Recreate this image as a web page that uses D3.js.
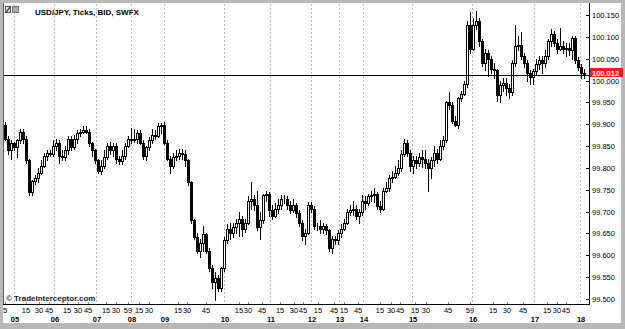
<!DOCTYPE html>
<html>
<head>
<meta charset="utf-8">
<script src="https://cdn.jsdelivr.net/npm/d3@7"></script>
<style>
  html, body { margin: 0; padding: 0; background: #b8b8b8; }
  svg { display: block; }
  text { font-family: "Liberation Sans", Arial, sans-serif; }
</style>
</head>
<body>
<div class="chart"></div>
<script>
const width = 625;
const height = 329;

// candle data (USD/JPY ticks, BID)
const open = [
  99.899, 99.867, 99.840, 99.856, 99.849, 99.863, 99.883, 99.867, 99.817, 99.744,
  99.771, 99.776, 99.789, 99.805, 99.828, 99.835, 99.833, 99.851, 99.858, 99.828,
  99.824, 99.840, 99.867, 99.849, 99.867, 99.879, 99.883, 99.886, 99.883, 99.856,
  99.840, 99.817, 99.794, 99.805, 99.824, 99.851, 99.840, 99.851, 99.821, 99.815,
  99.828, 99.851, 99.867, 99.863, 99.867, 99.879, 99.858, 99.828, 99.847, 99.863,
  99.876, 99.874, 99.897, 99.899, 99.858, 99.821, 99.805, 99.824, 99.828, 99.835,
  99.833, 99.817, 99.767, 99.680, 99.643, 99.611, 99.629, 99.648, 99.611, 99.570,
  99.538, 99.547, 99.526, 99.570, 99.634, 99.661, 99.652, 99.664, 99.675, 99.684,
  99.661, 99.675, 99.725, 99.730, 99.714, 99.664, 99.680, 99.737, 99.741, 99.703,
  99.691, 99.707, 99.714, 99.728, 99.730, 99.714, 99.703, 99.714, 99.696, 99.673,
  99.645, 99.652, 99.716, 99.707, 99.668, 99.666, 99.661, 99.666, 99.657, 99.616,
  99.638, 99.634, 99.650, 99.661, 99.675, 99.698, 99.703, 99.705, 99.691, 99.698,
  99.725, 99.719, 99.735, 99.737, 99.741, 99.712, 99.707, 99.748, 99.755, 99.778,
  99.780, 99.789, 99.799, 99.833, 99.856, 99.835, 99.805, 99.817, 99.812, 99.826,
  99.821, 99.812, 99.799, 99.817, 99.835, 99.821, 99.851, 99.865, 99.950, 99.945,
  99.908, 99.899, 99.959, 99.970, 99.991, 100.126, 100.073, 100.126, 100.137, 100.091,
  100.041, 100.064, 100.050, 100.027, 100.023, 99.966, 99.989, 99.995, 99.982, 99.973,
  100.041, 100.080, 100.082, 100.057, 100.039, 100.018, 100.009, 100.021, 100.037, 100.046,
  100.039, 100.057, 100.091, 100.107, 100.087, 100.073, 100.080, 100.073, 100.075, 100.069,
  100.098, 100.046, 100.032, 100.018
];
const high = [
  99.904, 99.872, 99.863, 99.860, 99.867, 99.890, 99.888, 99.872, 99.821, 99.773,
  99.783, 99.799, 99.817, 99.835, 99.840, 99.842, 99.863, 99.867, 99.863, 99.840,
  99.851, 99.872, 99.872, 99.876, 99.886, 99.890, 99.895, 99.897, 99.888, 99.860,
  99.844, 99.821, 99.817, 99.840, 99.856, 99.860, 99.858, 99.856, 99.828, 99.840,
  99.856, 99.874, 99.892, 99.890, 99.886, 99.886, 99.863, 99.851, 99.870, 99.890,
  99.886, 99.902, 99.902, 99.904, 99.863, 99.828, 99.835, 99.840, 99.844, 99.844,
  99.840, 99.821, 99.771, 99.684, 99.650, 99.638, 99.668, 99.652, 99.616, 99.577,
  99.561, 99.554, 99.574, 99.641, 99.671, 99.675, 99.675, 99.684, 99.698, 99.691,
  99.684, 99.735, 99.767, 99.737, 99.748, 99.698, 99.741, 99.748, 99.746, 99.714,
  99.719, 99.730, 99.737, 99.737, 99.735, 99.725, 99.730, 99.719, 99.703, 99.680,
  99.661, 99.721, 99.721, 99.712, 99.675, 99.680, 99.675, 99.671, 99.661, 99.645,
  99.645, 99.657, 99.671, 99.684, 99.707, 99.714, 99.725, 99.714, 99.707, 99.737,
  99.735, 99.741, 99.748, 99.753, 99.746, 99.725, 99.753, 99.767, 99.783, 99.794,
  99.805, 99.817, 99.840, 99.867, 99.863, 99.840, 99.828, 99.828, 99.835, 99.840,
  99.840, 99.821, 99.826, 99.851, 99.844, 99.863, 99.874, 99.954, 99.973, 99.950,
  99.918, 99.963, 99.977, 100.000, 100.137, 100.156, 100.142, 100.160, 100.142, 100.096,
  100.073, 100.069, 100.057, 100.041, 100.027, 100.000, 100.005, 100.005, 99.991, 100.046,
  100.126, 100.103, 100.110, 100.064, 100.046, 100.023, 100.027, 100.050, 100.057, 100.057,
  100.069, 100.096, 100.119, 100.114, 100.096, 100.121, 100.091, 100.087, 100.085, 100.103,
  100.103, 100.055, 100.037, 100.027
];
const low = [
  99.863, 99.833, 99.821, 99.840, 99.824, 99.858, 99.858, 99.812, 99.739, 99.739,
  99.764, 99.767, 99.785, 99.801, 99.817, 99.828, 99.828, 99.840, 99.812, 99.817,
  99.817, 99.833, 99.840, 99.844, 99.858, 99.872, 99.879, 99.879, 99.851, 99.828,
  99.812, 99.789, 99.787, 99.799, 99.821, 99.833, 99.828, 99.812, 99.808, 99.810,
  99.821, 99.847, 99.858, 99.860, 99.858, 99.854, 99.821, 99.817, 99.840, 99.858,
  99.867, 99.870, 99.879, 99.854, 99.817, 99.789, 99.799, 99.817, 99.821, 99.821,
  99.805, 99.762, 99.675, 99.638, 99.606, 99.595, 99.611, 99.606, 99.565, 99.526,
  99.497, 99.519, 99.519, 99.565, 99.629, 99.638, 99.643, 99.650, 99.645, 99.645,
  99.654, 99.671, 99.707, 99.703, 99.657, 99.638, 99.675, 99.725, 99.691, 99.684,
  99.687, 99.696, 99.707, 99.719, 99.707, 99.696, 99.698, 99.687, 99.668, 99.634,
  99.627, 99.648, 99.698, 99.661, 99.657, 99.652, 99.652, 99.648, 99.611, 99.606,
  99.627, 99.625, 99.643, 99.657, 99.671, 99.693, 99.693, 99.684, 99.675, 99.693,
  99.707, 99.714, 99.725, 99.721, 99.707, 99.700, 99.703, 99.744, 99.748, 99.767,
  99.776, 99.783, 99.794, 99.828, 99.828, 99.794, 99.789, 99.799, 99.805, 99.803,
  99.799, 99.748, 99.776, 99.805, 99.812, 99.817, 99.844, 99.860, 99.936, 99.902,
  99.895, 99.892, 99.954, 99.966, 99.986, 100.064, 100.069, 100.119, 100.080, 100.034,
  100.023, 100.011, 100.018, 100.005, 99.954, 99.950, 99.977, 99.966, 99.959, 99.966,
  100.034, 100.069, 100.050, 100.032, 100.000, 99.991, 99.991, 100.014, 100.027, 100.018,
  100.032, 100.050, 100.080, 100.078, 100.064, 100.069, 100.064, 100.057, 100.059, 100.050,
  100.041, 100.023, 100.005, 100.005
];
const close = [
  99.867, 99.840, 99.856, 99.849, 99.863, 99.883, 99.867, 99.817, 99.744, 99.771,
  99.776, 99.789, 99.805, 99.828, 99.835, 99.833, 99.851, 99.858, 99.828, 99.824,
  99.840, 99.867, 99.849, 99.867, 99.879, 99.883, 99.886, 99.883, 99.856, 99.840,
  99.817, 99.794, 99.805, 99.824, 99.851, 99.840, 99.851, 99.821, 99.815, 99.828,
  99.851, 99.867, 99.863, 99.867, 99.879, 99.858, 99.828, 99.847, 99.863, 99.876,
  99.874, 99.897, 99.899, 99.858, 99.821, 99.805, 99.824, 99.828, 99.835, 99.833,
  99.817, 99.767, 99.680, 99.643, 99.611, 99.629, 99.648, 99.611, 99.570, 99.538,
  99.547, 99.526, 99.570, 99.634, 99.661, 99.652, 99.664, 99.675, 99.684, 99.661,
  99.675, 99.725, 99.730, 99.714, 99.664, 99.680, 99.737, 99.741, 99.703, 99.691,
  99.707, 99.714, 99.728, 99.730, 99.714, 99.703, 99.714, 99.696, 99.673, 99.645,
  99.652, 99.716, 99.707, 99.668, 99.666, 99.661, 99.666, 99.657, 99.616, 99.638,
  99.634, 99.650, 99.661, 99.675, 99.698, 99.703, 99.705, 99.691, 99.698, 99.725,
  99.719, 99.735, 99.737, 99.741, 99.712, 99.707, 99.748, 99.755, 99.778, 99.780,
  99.789, 99.799, 99.833, 99.856, 99.835, 99.805, 99.817, 99.812, 99.826, 99.821,
  99.812, 99.799, 99.817, 99.835, 99.821, 99.851, 99.865, 99.950, 99.945, 99.908,
  99.899, 99.959, 99.970, 99.991, 100.126, 100.073, 100.126, 100.137, 100.091, 100.041,
  100.064, 100.050, 100.027, 100.023, 99.966, 99.989, 99.995, 99.982, 99.973, 100.041,
  100.080, 100.082, 100.057, 100.039, 100.018, 100.009, 100.021, 100.037, 100.046, 100.039,
  100.057, 100.091, 100.107, 100.087, 100.073, 100.080, 100.073, 100.075, 100.069, 100.098,
  100.046, 100.032, 100.018, 100.012
];

const lastPrice = 100.012;
const priceTicks = [99.5, 99.55, 99.6, 99.65, 99.7, 99.75, 99.8, 99.85, 99.9, 99.95, 100.0, 100.05, 100.1, 100.15];

// minute labels sit at candle positions
const minuteLabels = ["5", "15", "30", "45", "15", "30", "45", "15", "30", "59", "15", "30", "15", "30", "45",
  "15", "30", "45", "15", "30", "45", "15", "45", "15", "45", "15", "30", "45", "15", "30", "45", "59",
  "15", "30", "45", "15", "30", "45"];
const minuteIdx = [0, 7, 11.3, 14.7, 20.7, 24.3, 27.7, 33.7, 37, 41, 44.7, 48, 57.7, 60.7, 67,
  78, 81, 85.7, 91.7, 96.3, 99.3, 104.3, 109.7, 113, 117.7, 125, 128.7, 131.7, 136.7, 140.3, 147.7, 155,
  162.7, 167.3, 172.7, 180.7, 184, 187];
const hourLabels = ["05", "06", "07", "08", "09", "10", "11", "12", "13", "14", "15", "16", "17", "18"];
const hourIdx = [3, 16.3, 30.3, 42, 53, 73, 88.3, 102, 111.3, 119.3, 135.7, 155.7, 176.3, 191.7];

const plotLeft = 3, plotRight = 589, plotTop = 4, plotBottom = 304;

let data = open.map((o, i) => ({ i: i, o: o, h: high[i], l: low[i], c: close[i] }));

let svg = d3.select(".chart").append("svg").attr("width", width).attr("height", height);

// frame
svg.append("rect").attr("x", 0).attr("y", 0).attr("width", width).attr("height", height).attr("fill", "#b8b8b8");
svg.append("rect").attr("x", 3).attr("y", 3).attr("width", 618).attr("height", 320).attr("fill", "#fff");

let xScale = d3.scaleLinear().domain([0, open.length - 1]).range([5, 584]);
let yScale = d3.scaleLinear().domain([99.5, 100.15]).range([299, 15]);

// dashed hour lines
svg.append("g")
  .selectAll("line")
  .data(hourIdx)
  .enter()
  .append("line")
  .attr("x1", (d) => Math.round(xScale(d)) + 0.5)
  .attr("x2", (d) => Math.round(xScale(d)) + 0.5)
  .attr("y1", plotTop)
  .attr("y2", plotBottom)
  .attr("stroke", "#bdbdbd")
  .attr("stroke-dasharray", "2,2");

// candles
let candles = svg.append("g").attr("shape-rendering", "crispEdges");
candles.selectAll("line")
  .data(data)
  .enter()
  .append("line")
  .attr("x1", (d) => Math.round(xScale(d.i)) + 0.5)
  .attr("x2", (d) => Math.round(xScale(d.i)) + 0.5)
  .attr("y1", (d) => Math.round(yScale(d.h)))
  .attr("y2", (d) => Math.round(yScale(d.l)) + 1)
  .attr("stroke", "#000");
candles.selectAll("rect")
  .data(data)
  .enter()
  .append("rect")
  .attr("x", (d) => Math.round(xScale(d.i)) - 0.5)
  .attr("y", (d) => Math.round(yScale(Math.max(d.o, d.c))) + 0.5)
  .attr("width", 2)
  .attr("height", (d) => Math.max(0, Math.round(yScale(Math.min(d.o, d.c))) - Math.round(yScale(Math.max(d.o, d.c)))))
  .attr("fill", (d) => (d.c >= d.o ? "#fff" : "#000"))
  .attr("stroke", "#000");

// last price line
svg.append("line")
  .attr("x1", plotLeft)
  .attr("x2", plotRight)
  .attr("y1", Math.round(yScale(lastPrice)) + 0.5)
  .attr("y2", Math.round(yScale(lastPrice)) + 0.5)
  .attr("stroke", "#000");

// axes lines
svg.append("line").attr("x1", 3.5).attr("x2", 3.5).attr("y1", 3).attr("y2", plotBottom).attr("stroke", "#606060");
svg.append("line").attr("x1", plotRight + 0.5).attr("x2", plotRight + 0.5).attr("y1", 3).attr("y2", plotBottom + 1).attr("stroke", "#000");
svg.append("line").attr("x1", 3).attr("x2", plotRight + 1).attr("y1", plotBottom + 0.5).attr("y2", plotBottom + 0.5).attr("stroke", "#000");

// y axis labels
let yAxis = svg.append("g");
yAxis.selectAll("line")
  .data(priceTicks)
  .enter()
  .append("line")
  .attr("x1", plotRight - 3)
  .attr("x2", plotRight)
  .attr("y1", (d) => Math.round(yScale(d)) + 0.5)
  .attr("y2", (d) => Math.round(yScale(d)) + 0.5)
  .attr("stroke", "#000");
yAxis.selectAll("text")
  .data(priceTicks)
  .enter()
  .append("text")
  .attr("x", 592)
  .attr("y", (d) => yScale(d) + 3)
  .attr("font-size", 7.5)
  .attr("fill", "#000")
  .text((d) => d3.format(".3f")(d));

// last price tag
let tagY = Math.round(yScale(lastPrice));
svg.append("rect").attr("x", 590).attr("y", tagY - 7).attr("width", 33).attr("height", 9).attr("fill", "#ee1c1c");
svg.append("text")
  .attr("x", 592)
  .attr("y", tagY + 0.5)
  .attr("font-size", 7.5)
  .attr("font-weight", "bold")
  .attr("fill", "#fff")
  .text(d3.format(".3f")(lastPrice));

// x axis ticks and labels
let xAxis = svg.append("g");
xAxis.selectAll("line")
  .data(minuteIdx)
  .enter()
  .append("line")
  .attr("x1", (d) => Math.round(xScale(d)) + 0.5)
  .attr("x2", (d) => Math.round(xScale(d)) + 0.5)
  .attr("y1", plotBottom - 2)
  .attr("y2", plotBottom)
  .attr("stroke", "#888");
xAxis.selectAll("text.minute")
  .data(minuteIdx)
  .enter()
  .append("text")
  .attr("class", "minute")
  .attr("x", (d) => xScale(d))
  .attr("y", 313)
  .attr("text-anchor", "middle")
  .attr("font-size", 7.5)
  .attr("fill", "#000")
  .text((d, i) => minuteLabels[i]);
xAxis.selectAll("text.hour")
  .data(hourIdx)
  .enter()
  .append("text")
  .attr("class", "hour")
  .attr("x", (d) => xScale(d) + 1)
  .attr("y", 322)
  .attr("text-anchor", "middle")
  .attr("font-size", 7.5)
  .attr("font-weight", "bold")
  .attr("fill", "#000")
  .text((d, i) => hourLabels[i]);

// title and icons
svg.append("rect").attr("x", 5.5).attr("y", 6.5).attr("width", 5).attr("height", 6).attr("fill", "#ddd").attr("stroke", "#555");
svg.append("line").attr("x1", 6.5).attr("y1", 12).attr("x2", 10).attr("y2", 7).attr("stroke", "#222").attr("stroke-width", 1.2);
svg.append("rect").attr("x", 12.5).attr("y", 6.5).attr("width", 6).attr("height", 6).attr("fill", "#a8a8a8").attr("stroke", "#777");
svg.append("text")
  .text("USD/JPY, Ticks, BID, SWFX")
  .attr("x", 35)
  .attr("y", 15)
  .attr("font-size", 8)
  .attr("font-weight", "bold")
  .attr("fill", "#000");

svg.append("text")
  .text("© TradeInterceptor.com")
  .attr("x", 6)
  .attr("y", 301)
  .attr("font-size", 8)
  .attr("font-weight", "bold")
  .attr("fill", "#222");
</script>
</body>
</html>
